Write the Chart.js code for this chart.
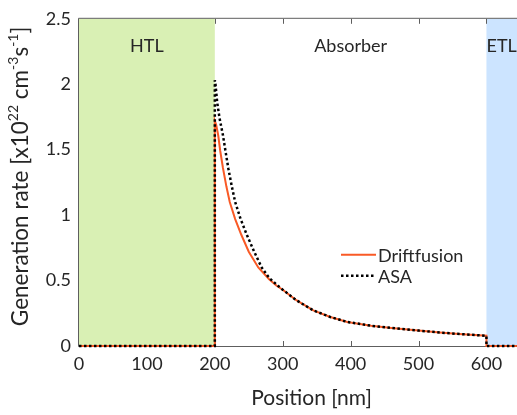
<!DOCTYPE html>
<html><head><meta charset="utf-8">
<script src="https://cdn.jsdelivr.net/npm/chart.js@4.4.1/dist/chart.umd.min.js"></script>
<style>html,body{margin:0;padding:0;background:#fff;}canvas{display:block;}</style>
</head><body>
<canvas id="c" width="517" height="415"></canvas>
<script>
// ---- data ----
const positionDF = [0,200,200,202,205,208,212,217,222,230,239,250,264,280,291,300,320,345,370,395,430,460,500,531,565,600,600,645];
const rateDF     = [0,0,1.72,1.69,1.61,1.49,1.36,1.22,1.10,0.97,0.85,0.72,0.60,0.51,0.46,0.43,0.35,0.272,0.222,0.184,0.155,0.138,0.118,0.103,0.090,0.078,0,0];
const positionASA = [0,200,200,201,203.5,207,212,216,220,225,230,238,247,258,269,280,293,300,320,345,370,395,430,460,500,531,565,600,600,645];
const rateASA     = [0,0,2.03,2.00,1.86,1.74,1.61,1.48,1.354,1.22,1.10,0.97,0.851,0.72,0.60,0.52,0.46,0.43,0.35,0.272,0.222,0.184,0.155,0.138,0.118,0.103,0.090,0.078,0,0];
const seriesNames = ['Driftfusion','ASA'];
const xTickValues = [0,100,200,300,400,500,600];
const yTickValues = [0,0.5,1,1.5,2,2.5];
const yTickLabels = ['0','0.5','1','1.5','2','2.5'];
const regionStart = [0,600];
const regionEnd   = [200,645];
const regionNames = ['HTL','Absorber','ETL'];
const regionLabelAt = [100,400,622.5];
const xTitle = 'Position [nm]';
// y title pieces: [text, isSuperscript]
const yTitleParts = [['Generation rate [x10',0],['22',1],[' cm',0],['-3',1],['s',0],['-1',1],[']',0]];

const FONT = 'Lato, "Open Sans", sans-serif';
const TEXT = '#262626';
const AXIS = '#5e5e5e';
const regionColors = ['#d9f0b4','#cce4ff'];

const toXY = (xs, ys) => xs.map((x,i)=>({x, y: ys[i]}));

const decor = {
  id:'decor',
  beforeDatasetsDraw(chart){
    const {ctx, chartArea:a, scales:{x}} = chart;
    ctx.save();
    regionStart.forEach((s,i)=>{
      const x0 = x.getPixelForValue(s), x1 = x.getPixelForValue(regionEnd[i]);
      ctx.fillStyle = regionColors[i];
      ctx.fillRect(x0, a.top, x1-x0, a.bottom-a.top);
    });
    ctx.strokeStyle = AXIS; ctx.lineWidth = 1;
    ctx.beginPath();
    ctx.moveTo(a.left-0.5, a.bottom+0.5); ctx.lineTo(a.right, a.bottom+0.5);
    ctx.moveTo(a.left-0.5, a.top-0.5); ctx.lineTo(a.right, a.top-0.5);
    ctx.moveTo(a.left-0.5, a.top-0.5); ctx.lineTo(a.left-0.5, a.bottom+0.5);
    ctx.stroke();
    ctx.beginPath();
    xTickValues.forEach(v=>{
      const hidden = regionStart.some((s,i)=> v>s && v<regionEnd[i]) || v===0;
      if (hidden) return;
      const px = Math.round(x.getPixelForValue(v))+0.5;
      ctx.moveTo(px, a.bottom); ctx.lineTo(px, a.bottom-5);
      ctx.moveTo(px, a.top); ctx.lineTo(px, a.top+5);
    });
    ctx.stroke();
    ctx.fillStyle = TEXT;
    ctx.font = '18px ' + FONT;
    ctx.textAlign = 'center'; ctx.textBaseline = 'middle';
    regionNames.forEach((n,i)=>{
      ctx.fillText(n, x.getPixelForValue(regionLabelAt[i]), a.top + 27);
    });
    ctx.restore();
  },
  afterDatasetsDraw(chart){
    const {ctx, chartArea:a} = chart;
    ctx.save();
    // legend
    const lx = a.left + 262, ly = a.top + 236, gap = 21, len = 35;
    chart.data.datasets.slice().sort((p,q)=>seriesNames.indexOf(p.label)-seriesNames.indexOf(q.label)).forEach((d,i)=>{
      const y = ly + i*gap;
      ctx.strokeStyle = d.borderColor; ctx.lineWidth = d.borderWidth;
      ctx.setLineDash(d.borderDash || []);
      ctx.beginPath(); ctx.moveTo(lx, y); ctx.lineTo(lx+len, y); ctx.stroke();
      ctx.setLineDash([]);
      ctx.fillStyle = TEXT; ctx.font = '18px ' + FONT;
      ctx.textAlign = 'left'; ctx.textBaseline = 'middle';
      ctx.fillText(d.label, lx+len+2, y+1);
    });
    // x axis title
    ctx.fillStyle = TEXT; ctx.font = '21px ' + FONT;
    ctx.textAlign = 'center'; ctx.textBaseline = 'middle';
    ctx.fillText(xTitle, a.left + (a.right-a.left)*0.531, a.bottom + 52);
    // y axis title with real superscripts
    const base = '22.5px ' + FONT, sup = '14px ' + FONT;
    let total = 0;
    yTitleParts.forEach(([t,s])=>{ ctx.font = s?sup:base; total += ctx.measureText(t).width; });
    ctx.translate(21, (a.top+a.bottom)/2 - 6);
    ctx.rotate(-Math.PI/2);
    ctx.textAlign = 'left'; ctx.textBaseline = 'middle';
    let cx = -total/2;
    yTitleParts.forEach(([t,s])=>{
      ctx.font = s?sup:base;
      ctx.fillText(t, cx, s ? -8 : 0);
      cx += ctx.measureText(t).width;
    });
    ctx.restore();
  }
};

new Chart(document.getElementById('c'), {
  type:'line',
  data:{
    datasets:[
      {label:seriesNames[1], data:toXY(positionASA, rateASA), borderColor:'#000000', borderWidth:2.5, borderDash:[2.5,2.5], pointRadius:0, fill:false, tension:0, order:0, clip:false},
      {label:seriesNames[0], data:toXY(positionDF, rateDF), borderColor:'#f95a26', borderWidth:2, pointRadius:0, fill:false, tension:0, order:1, clip:false}
    ]
  },
  options:{
    responsive:false, animation:false, devicePixelRatio:1,
    layout:{padding:{top:15, right:0, left:0, bottom:0}},
    plugins:{legend:{display:false}, tooltip:{enabled:false}},
    scales:{
      x:{type:'linear', min:0, max:645,
        afterBuildTicks(s){ s.ticks = xTickValues.map(v=>({value:v})); },
        afterFit(s){ s.height = 69; },
        grid:{display:false, drawTicks:false}, border:{display:false},
        ticks:{color:TEXT, font:{family:FONT, size:18}, padding:7, maxRotation:0, autoSkip:false}
      },
      y:{type:'linear', min:0, max:2.5,
        afterBuildTicks(s){ s.ticks = yTickValues.map(v=>({value:v})); },
        afterFit(s){ s.width = 79; },
        grid:{display:false, drawTicks:false}, border:{display:false},
        ticks:{color:TEXT, font:{family:FONT, size:18}, padding:8, autoSkip:false,
          callback:(v)=>{ const i = yTickValues.indexOf(v); return i>=0 ? yTickLabels[i] : ''; }}
      }
    }
  },
  plugins:[decor]
});
</script>
</body></html>
